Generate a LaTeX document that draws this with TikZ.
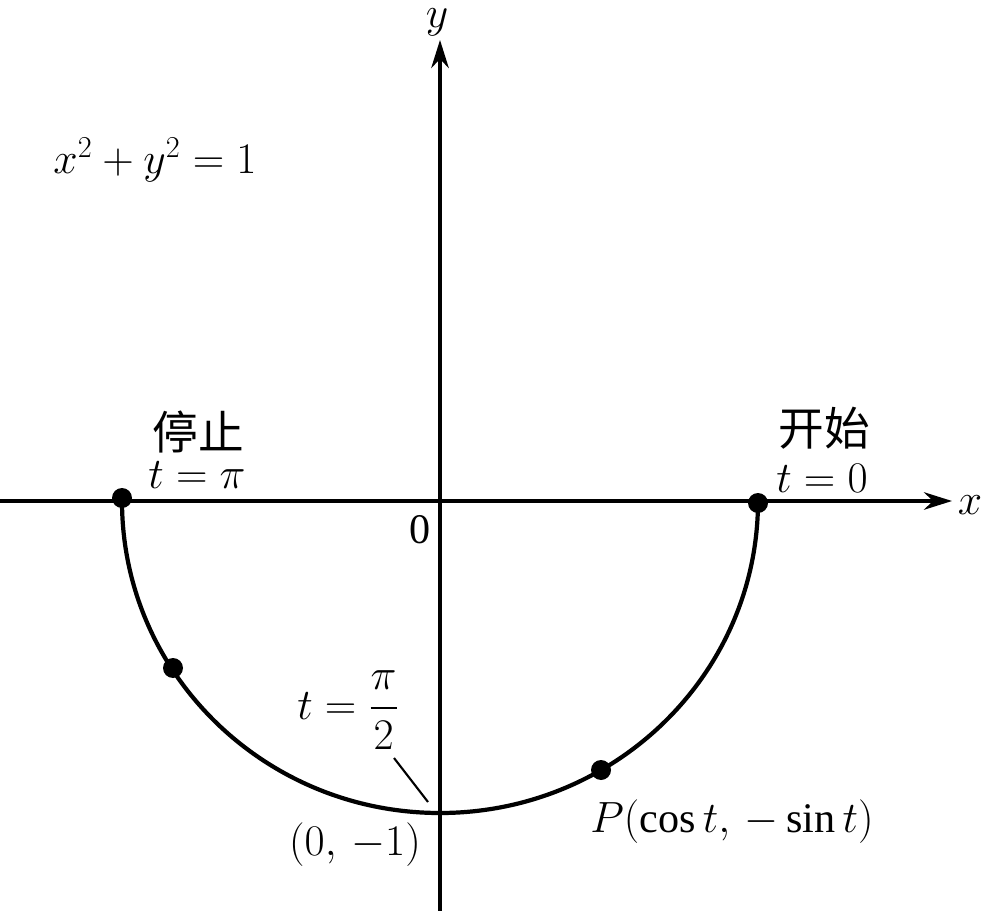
\documentclass[tikz,border=0pt]{standalone}
\usepackage{amsmath}
\usepackage{fontspec}
\setmainfont{Liberation Serif}
\newfontfamily\cjk{Noto Sans CJK SC}
\usetikzlibrary{arrows.meta}
\begin{document}
\begin{tikzpicture}[x=0.02cm,y=-0.02cm,
  axis/.style={line width=2pt,-{Stealth[length=16pt,width=10pt]}},
  curve/.style={line width=2.4pt},
  dot/.style={circle,fill=black,inner sep=0pt,minimum size=0.4cm},
  lbl/.style={font=\fontsize{24}{28}\selectfont,inner sep=0pt},
  cn/.style={font=\cjk\fontsize{26}{30}\selectfont,inner sep=0pt}]
\useasboundingbox (0,0) rectangle (986,911);
\coordinate (xs) at (0,501);
\coordinate (xe) at (952,501);
\coordinate (ys) at (440,911);
\coordinate (ye) at (440,40);
\draw[axis] (xs) -- (xe);
\draw[axis] (ys) -- (ye);
\node[lbl] (xl) at (970,505) {$x$};
\node[lbl] (yl) at (437,22) {$y$};
\node[lbl] (o) at (420,530) {0};
\draw[curve] (122,501) arc[start angle=180,end angle=0,x radius=318,y radius=312];
\node[dot] (stop) at (122,498) {};
\node[dot] (start) at (758,503) {};
\node[dot] (q) at (173,668) {};
\node[dot] (p) at (601,770) {};
\coordinate (bot) at (440,813);
\node[lbl] (eq) at (155,160) {$x^2+y^2=1$};
\node[cn] (tz) at (198,432) {停止};
\node[lbl] (tpi) at (197,475) {$t=\pi$};
\node[cn] (ks) at (824,428) {开始};
\node[lbl] (t0) at (822,478) {$t=0$};
\node[lbl] (th) at (348,710) {$t=\dfrac{\pi}{2}$};
\coordinate (la) at (394,758);
\draw[line width=1.2pt] (la) -- (428,802);
\node[lbl] (m1) at (355,845) {$(0,\,-1)$};
\node[lbl] (pl) at (732,822) {$P(\cos t,\,-\sin t)$};
\end{tikzpicture}
\end{document}
